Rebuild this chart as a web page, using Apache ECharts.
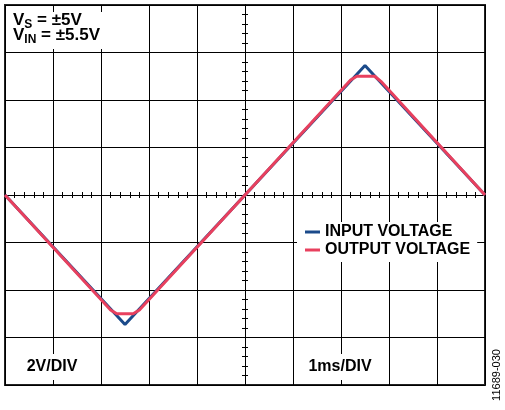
<!DOCTYPE html>
<html>
<head>
<meta charset="utf-8">
<script src="https://cdn.jsdelivr.net/npm/echarts@6/dist/echarts.min.js"></script>
<style>
html,body{margin:0;padding:0;background:#fff;}
#chart{width:505px;height:410px;}
</style>
</head>
<body>
<div id="chart"></div>
<script>
// Time in ms (1 ms/div), voltage in V (2 V/div)
const inputTime = [0, 2.5, 7.5, 10];
const inputVolt = [0, -5.45, 5.45, 0];
const outputTime = [0, 2.2, 2.33, 2.67, 2.8, 7.2, 7.33, 7.7, 7.85, 10];
const outputVolt = [0, -4.84, -5.0, -5.0, -4.84, 4.84, 5.0, 5.0, 4.75, 0];
const seriesNames = ['INPUT VOLTAGE', 'OUTPUT VOLTAGE'];
const xRange = [0, 10, 1];
const yRange = [-8, 8, 2];
// Annotation lines: [main, subscript, rest]
const noteLines = [['V', 'S', ' = ±5V'], ['V', 'IN', ' = ±5.5V']];

const inputData = inputTime.map((t, i) => [t, inputVolt[i]]);
const outputData = outputTime.map((t, i) => [t, outputVolt[i]]);

const FAM = '"Liberation Sans", Arial, sans-serif';
const BOLD = 'bold 16px ' + FAM;
const NOTE_FONT = 'bold 17px ' + FAM;
const SUB_FONT = 'bold 12px ' + FAM;

const mctx = document.createElement('canvas').getContext('2d');
function tw(text, font) { mctx.font = font; return mctx.measureText(text).width; }

function xAxisDef(pos, split) {
  return {
    type: 'value', position: pos, min: xRange[0], max: xRange[1], interval: xRange[2],
    axisLabel: {show: false}, axisTick: {show: false},
    splitLine: {show: split, lineStyle: {color: '#000', width: 1}},
    axisLine: {show: true, onZero: true, lineStyle: {color: '#000', width: 1}},
    minorTick: {show: true, splitNumber: 5, length: 3, lineStyle: {color: '#000', width: 1}},
    minorSplitLine: {show: false}
  };
}
function yAxisDef(pos, split) {
  return {
    type: 'value', position: pos, offset: -240, min: yRange[0], max: yRange[1], interval: yRange[2],
    axisLabel: {show: false}, axisTick: {show: false},
    splitLine: {show: split, lineStyle: {color: '#000', width: 1}},
    axisLine: {show: true, onZero: false, lineStyle: {color: '#000', width: 1}},
    minorTick: {show: true, splitNumber: 5, length: 3, lineStyle: {color: '#000', width: 1}},
    minorSplitLine: {show: false}
  };
}

const noteGraphics = [{type: 'rect', z: 99, shape: {x: 6, y: 12, width: 98, height: 37}, style: {fill: '#fff'}}];
noteLines.forEach((ln, i) => {
  const y = 20 + i * 15.5;
  let x = 13;
  noteGraphics.push({type: 'text', z: 100, x: x, y: y, style: {text: ln[0], font: NOTE_FONT, fill: '#000', verticalAlign: 'middle'}});
  x += tw(ln[0], NOTE_FONT);
  noteGraphics.push({type: 'text', z: 100, x: x, y: y + 4.5, style: {text: ln[1], font: SUB_FONT, fill: '#000', verticalAlign: 'middle'}});
  x += tw(ln[1], SUB_FONT);
  noteGraphics.push({type: 'text', z: 100, x: x, y: y, style: {text: ln[2], font: NOTE_FONT, fill: '#000', verticalAlign: 'middle'}});
});

const chart = echarts.init(document.getElementById('chart'), null, {renderer: 'canvas'});
chart.setOption({
  animation: false,
  backgroundColor: '#fff',
  grid: {left: 5, top: 5, width: 480, height: 380, show: true, borderColor: '#222', borderWidth: 2, backgroundColor: '#fff'},
  xAxis: [xAxisDef('bottom', true), xAxisDef('top', false)],
  yAxis: [yAxisDef('left', true), yAxisDef('right', false)],
  legend: {
    orient: 'vertical', left: 297, top: 222, itemWidth: 15, itemHeight: 3, itemGap: 2,
    icon: 'rect', backgroundColor: '#fff', padding: [2, 7, 4, 8],
    data: seriesNames,
    textStyle: {fontFamily: FAM, fontWeight: 'bold', fontSize: 16, color: '#000'}
  },
  series: [
    {name: seriesNames[0], type: 'line', xAxisIndex: 0, yAxisIndex: 0, data: inputData, showSymbol: false,
     lineStyle: {color: '#1B4A8A', width: 3}, itemStyle: {color: '#1B4A8A'}, z: 3},
    {name: seriesNames[1], type: 'line', xAxisIndex: 0, yAxisIndex: 0, data: outputData, showSymbol: false,
     lineStyle: {color: '#E8405E', width: 3}, itemStyle: {color: '#E8405E'}, z: 4}
  ],
  graphic: noteGraphics.concat([
    {type: 'text', x: 52, y: 367, z: 100, style: {
      text: '2V/DIV', font: BOLD, fill: '#000', align: 'center', verticalAlign: 'middle',
      backgroundColor: '#fff', padding: [5, 4, 5, 4]
    }},
    {type: 'text', x: 340, y: 367, z: 100, style: {
      text: '1ms/DIV', font: BOLD, fill: '#000', align: 'center', verticalAlign: 'middle',
      backgroundColor: '#fff', padding: [5, 4, 5, 4]
    }},
    {type: 'text', x: 497, y: 375, rotation: Math.PI / 2, z: 100, style: {
      text: '11689-030', font: '11px ' + FAM, fill: '#000',
      align: 'center', verticalAlign: 'middle'
    }}
  ])
});
</script>
</body>
</html>
